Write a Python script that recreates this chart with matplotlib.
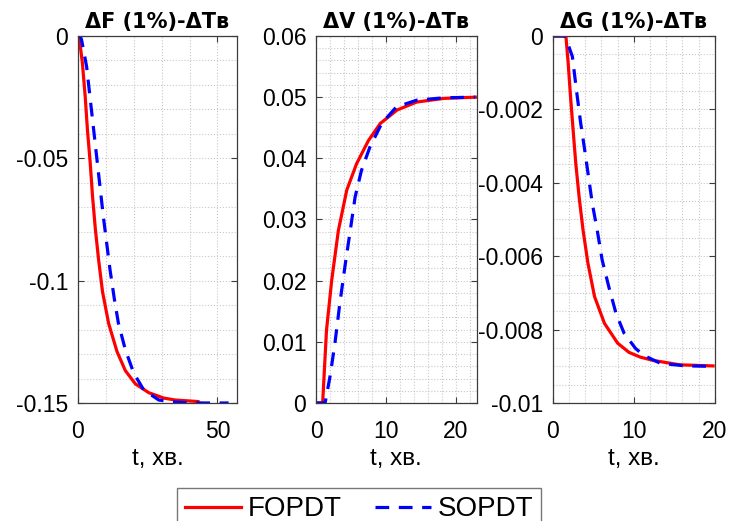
import matplotlib
matplotlib.use("Agg")
import matplotlib.pyplot as plt
from matplotlib.ticker import MultipleLocator

plt.rcParams["font.family"] = ["Liberation Sans", "DejaVu Sans"]
plt.rcParams["axes.unicode_minus"] = False

# step responses (t in minutes)
f_fo_t = [0, 0.4, 1.6, 2.6, 3.4, 4.4, 5.2, 6.2, 7.4, 8.8, 11, 14, 17, 20.6, 25.4, 30.8, 35, 43]
f_fo_y = [0, 0, -0.0112, -0.0248, -0.0384, -0.052, -0.0652, -0.0785, -0.0915, -0.1045,
          -0.1175, -0.129, -0.1368, -0.1422, -0.1458, -0.148, -0.1488, -0.1494]
f_so_t = [0, 0.8, 1.3, 3.1, 4.3, 5.5, 6.7, 7.9, 9.1, 10.3, 11.5, 13.1, 14.5, 17, 20, 23.6,
          29, 36, 45, 54]
f_so_y = [0, 0, -0.0016, -0.0125, -0.0248, -0.037, -0.0493, -0.0616, -0.0738, -0.0847,
          -0.0956, -0.1079, -0.1174, -0.1283, -0.1378, -0.1447, -0.1488, -0.1497, -0.15, -0.15]

v_fo_t = [0, 0.95, 1.5, 2.25, 3.2, 4.4, 5.8, 7.5, 9.2, 11.6, 14.4, 18.3, 22.8]
v_fo_y = [0, 0, 0.0119, 0.0201, 0.0282, 0.0348, 0.0391, 0.0429, 0.0457, 0.0479, 0.0492,
          0.0498, 0.05]
v_so_t = [0, 1.3, 2.0, 2.7, 3.4, 4.2, 4.9, 5.6, 6.5, 7.7, 9.4, 11.5, 14.4, 18.3, 22.8]
v_so_y = [0, 0, 0.0043, 0.0097, 0.0162, 0.0228, 0.0282, 0.0337, 0.038, 0.0418, 0.0457,
          0.0484, 0.0495, 0.0499, 0.05]

g_fo_t = [0, 1.6, 1.88, 2.17, 2.49, 2.82, 3.23, 3.72, 4.33, 5.14, 6.37, 8.0, 9.4, 10.8,
          12.4, 15.7, 19.8]
g_fo_y = [0, 0, -0.00074, -0.00165, -0.00256, -0.00347, -0.00438, -0.00529, -0.0062,
          -0.0071, -0.00783, -0.00837, -0.00862, -0.00875, -0.00884, -0.00896, -0.00899]
g_so_t = [0, 1.5, 2.4, 2.9, 3.43, 3.92, 4.45, 4.86, 5.47, 6.08, 6.9, 7.8, 8.8, 10.2, 11.2,
          13.3, 16.5, 19.8]
g_so_y = [0, 0, -0.00056, -0.00147, -0.00238, -0.0031, -0.00392, -0.00456, -0.00529,
          -0.0061, -0.00683, -0.00756, -0.0081, -0.00851, -0.0087, -0.00892, -0.00899, -0.009]

titles = ["ΔF (1%)-ΔTв", "ΔV (1%)-ΔTв", "ΔG (1%)-ΔTв"]
xlabel = "t, хв."
xlims = [(0, 57), (0, 23), (0, 20)]
ylims = [(-0.15, 0), (0, 0.06), (-0.01, 0)]
xticks = [[0, 50], [0, 10, 20], [0, 10, 20]]
yticks = [[0, -0.05, -0.1, -0.15],
          [0, 0.01, 0.02, 0.03, 0.04, 0.05, 0.06],
          [0, -0.002, -0.004, -0.006, -0.008, -0.01]]
ytick_labels = [["0", "-0.05", "-0.1", "-0.15"],
                ["0", "0.01", "0.02", "0.03", "0.04", "0.05", "0.06"],
                ["0", "-0.002", "-0.004", "-0.006", "-0.008", "-0.01"]]
x_minor = [10, 2, 2]
y_minor = [0.01, 0.002, 0.0005]

fo_data = [(f_fo_t, f_fo_y), (v_fo_t, v_fo_y), (g_fo_t, g_fo_y)]
so_data = [(f_so_t, f_so_y), (v_so_t, v_so_y), (g_so_t, g_so_y)]

fig = plt.figure(figsize=(7.3, 5.21), dpi=100)
lefts = [0.1068, 0.4329, 0.7575]
widths = [0.2178, 0.2201, 0.2215]
bottom, height = 0.2265, 0.7044

edge = "#3c3c3c"
for i in range(3):
    ax = fig.add_axes([lefts[i], bottom, widths[i], height])
    l1, = ax.plot(*fo_data[i], color="#ff0000", lw=2.3, label="FOPDT")
    l2, = ax.plot(*so_data[i], color="#0000ff", lw=2.3, ls=(0, (4.3, 3.0)), label="SOPDT")
    ax.set_xlim(*xlims[i])
    ax.set_ylim(*ylims[i])
    ax.set_xticks(xticks[i])
    ax.set_xticklabels([str(v) for v in xticks[i]])
    ax.set_yticks(yticks[i])
    ax.set_yticklabels(ytick_labels[i])
    ax.xaxis.set_minor_locator(MultipleLocator(x_minor[i]))
    ax.yaxis.set_minor_locator(MultipleLocator(y_minor[i]))
    ax.grid(True, which="both", color="#c8c8c8", ls=":", lw=0.8)
    ax.set_axisbelow(True)
    ax.tick_params(which="major", direction="in", length=4, width=0.8, color=edge,
                   top=True, right=True, labelsize=16.5)
    ax.tick_params(which="minor", length=0, top=True, right=True)
    ax.tick_params(axis="x", pad=12)
    ax.tick_params(axis="y", pad=7)
    for s in ax.spines.values():
        s.set_color(edge)
        s.set_linewidth(0.9)
    ax.set_title(titles[i], fontsize=15, fontweight="bold", family="DejaVu Sans", pad=6)
    ax.set_xlabel(xlabel, fontsize=17.5, labelpad=4)

fig.legend([l1, l2], ["FOPDT", "SOPDT"], loc="upper center", bbox_to_anchor=(0.492, 0.0633),
           ncol=2, fontsize=20, frameon=True, fancybox=False, edgecolor="#555555",
           handlelength=2.0, handletextpad=0.25, columnspacing=1.2, borderpad=0.3,
           borderaxespad=0)

fig.savefig("out.png", dpi=100)
